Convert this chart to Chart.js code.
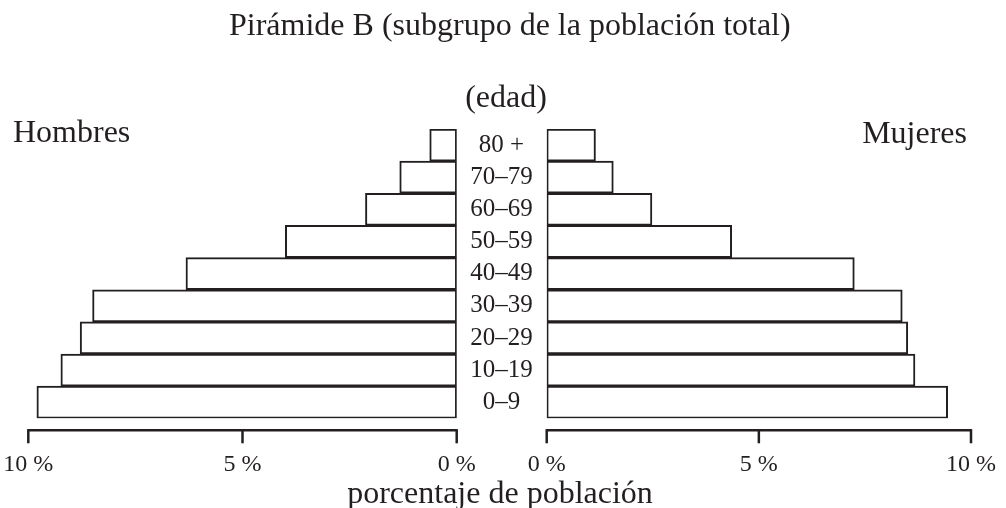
<!DOCTYPE html>
<html>
<head>
<meta charset="utf-8">
<script src="https://cdn.jsdelivr.net/npm/chart.js@4"></script>
<style>
  body { margin: 0; background: #fff; }
  #wrap { position: relative; width: 1006px; height: 508px; overflow: hidden; font-family: "Liberation Serif", serif; color: #231f20; }
  canvas { position: absolute; top: 0; }
  .txt { position: absolute; line-height: 1; white-space: nowrap; }
</style>
</head>
<body>
<div id="wrap">
  <canvas id="men" width="480" height="508" style="left:0"></canvas>
  <canvas id="women" width="549" height="508" style="left:457px"></canvas>
  <div class="txt" style="left:229px;top:8px;font-size:32px">Pirámide B (subgrupo de la población total)</div>
  <div class="txt" style="left:13px;top:115px;font-size:32px">Hombres</div>
  <div class="txt" style="right:39px;top:116px;font-size:32px">Mujeres</div>
  <div class="txt" style="left:406px;width:200px;text-align:center;top:80px;font-size:32px">(edad)</div>
  <div class="txt" style="left:300px;width:400px;text-align:center;top:476px;font-size:32px">porcentaje de población</div>
</div>
<script>
// age groups, top to bottom
const ageGroups = ['80 +', '70–79', '60–69', '50–59', '40–49', '30–39', '20–29', '10–19', '0–9'];
const menPct   = [0.63, 1.33, 2.13, 4.0, 6.32, 8.5, 8.79, 9.24, 9.8];
const womenPct = [1.15, 1.57, 2.48, 4.36, 7.25, 8.38, 8.51, 8.68, 9.45];
const axisTicks = [0, 5, 10];

const ink = '#231f20';
const serif = 'Liberation Serif';

// axis line sits a bit below the bars, so draw it from the x scale
const lowAxis = {
  id: 'lowAxis',
  afterDraw(chart) {
    const sx = chart.scales.x;
    const ctx = chart.ctx;
    const y = chart.chartArea.bottom + 12;
    ctx.save();
    ctx.strokeStyle = ink;
    ctx.lineWidth = 2.5;
    ctx.beginPath();
    ctx.moveTo(sx.getPixelForValue(axisTicks[0]), y);
    ctx.lineTo(sx.getPixelForValue(axisTicks[axisTicks.length - 1]), y);
    ctx.stroke();
    axisTicks.forEach(v => {
      const x = sx.getPixelForValue(v);
      ctx.beginPath();
      ctx.moveTo(x, y - 1.2);
      ctx.lineTo(x, y + 13);
      ctx.stroke();
    });
    ctx.restore();
  }
};

function pyramid(id, values, reverse, pad, showAges) {
  return new Chart(document.getElementById(id), {
    type: 'bar',
    data: {
      labels: ageGroups,
      datasets: [{
        data: values,
        backgroundColor: '#ffffff',
        borderColor: ink,
        borderWidth: 2,
        borderSkipped: false,
        barPercentage: 1,
        categoryPercentage: 1
      }]
    },
    options: {
      indexAxis: 'y',
      responsive: false,
      devicePixelRatio: 1,
      animation: false,
      events: [],
      layout: { padding: pad },
      plugins: { legend: { display: false }, tooltip: { enabled: false } },
      scales: {
        x: {
          min: 0, max: 10, reverse: reverse,
          grid: { display: false, drawTicks: false },
          border: { display: false },
          afterFit: s => { s.height = 89.7; s.paddingLeft = 0; s.paddingRight = 0; },
          afterBuildTicks: s => { s.ticks = axisTicks.map(v => ({ value: v })); },
          ticks: {
            padding: 32,
            maxRotation: 0,
            color: ink,
            font: { family: serif, size: 24 },
            callback: v => v + ' %'
          }
        },
        y: {
          display: showAges,
          grid: { display: false, drawTicks: false },
          border: { display: false },
          afterFit: s => { s.width = showAges ? 89.7 : 0; s.paddingTop = 0; s.paddingBottom = 0; },
          ticks: {
            autoSkip: false,
            padding: 14,
            crossAlign: 'center',
            color: ink,
            font: { family: serif, size: 25 }
          }
        }
      }
    },
    plugins: [lowAxis]
  });
}

pyramid('men', menPct, true, { left: 28.3, right: 23.3, top: 129, bottom: 0 }, false);
pyramid('women', womenPct, false, { left: 0, right: 35, top: 129, bottom: 0 }, true);
</script>
</body>
</html>
